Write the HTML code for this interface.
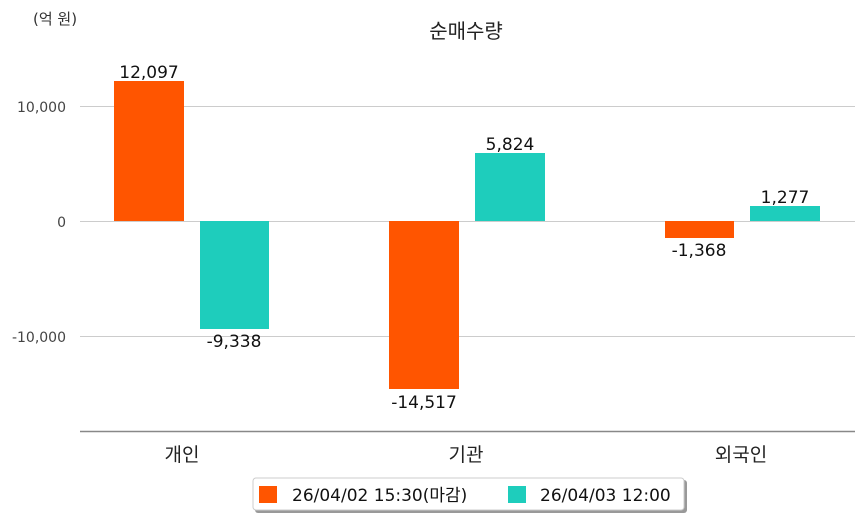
<!DOCTYPE html>
<html><head><meta charset="utf-8"><style>
html,body{margin:0;padding:0;background:#fff}
svg text{font-family:"DejaVu Sans","Noto Sans CJK KR",sans-serif}
</style></head><body>
<svg width="863" height="520" xmlns="http://www.w3.org/2000/svg">
<rect width="863" height="520" fill="#fff"/>
<text x="33" y="24" font-size="15" fill="#333">(억 원)</text>
<text x="466" y="38" font-size="20" fill="#222" text-anchor="middle">순매수량</text>
<g stroke="#ccc" stroke-width="1">
<line x1="80" x2="855" y1="106.5" y2="106.5"/>
<line x1="80" x2="855" y1="221.5" y2="221.5"/>
<line x1="80" x2="855" y1="336.5" y2="336.5"/>
</g>
<line x1="80" x2="855" y1="431.5" y2="431.5" stroke="#888" stroke-width="1.5"/>
<g font-size="14" fill="#444" text-anchor="end">
<text x="66" y="112">10,000</text>
<text x="66" y="227">0</text>
<text x="66" y="342">-10,000</text>
</g>
<g>
<rect x="114" y="81" width="70" height="140" fill="#ff5500"/>
<rect x="200" y="221" width="69" height="108" fill="#1ecdbc"/>
<rect x="389" y="221" width="70" height="168" fill="#ff5500"/>
<rect x="475" y="153" width="70" height="68" fill="#1ecdbc"/>
<rect x="665" y="221" width="69" height="17" fill="#ff5500"/>
<rect x="750" y="206" width="70" height="15" fill="#1ecdbc"/>
</g>
<g font-size="17" fill="#111" text-anchor="middle">
<text x="149" y="78">12,097</text>
<text x="234" y="347">-9,338</text>
<text x="424" y="408">-14,517</text>
<text x="510" y="150">5,824</text>
<text x="699" y="256">-1,368</text>
<text x="785" y="203">1,277</text>
</g>
<g font-size="19" fill="#222" text-anchor="middle">
<text x="182" y="461">개인</text>
<text x="466" y="461">기관</text>
<text x="741" y="461">외국인</text>
</g>
<rect x="255" y="480" width="432" height="33" rx="3" fill="#999"/>
<rect x="253" y="478" width="431" height="32" rx="3" fill="#fff" stroke="#ccc"/>
<rect x="259" y="486" width="18" height="17" fill="#ff5500"/>
<text x="292" y="501" font-size="17" fill="#111">26/04/02 15:30(마감)</text>
<rect x="508" y="486" width="18" height="17" fill="#1ecdbc"/>
<text x="540" y="501" font-size="17" fill="#111">26/04/03 12:00</text>
</svg>
</body></html>
